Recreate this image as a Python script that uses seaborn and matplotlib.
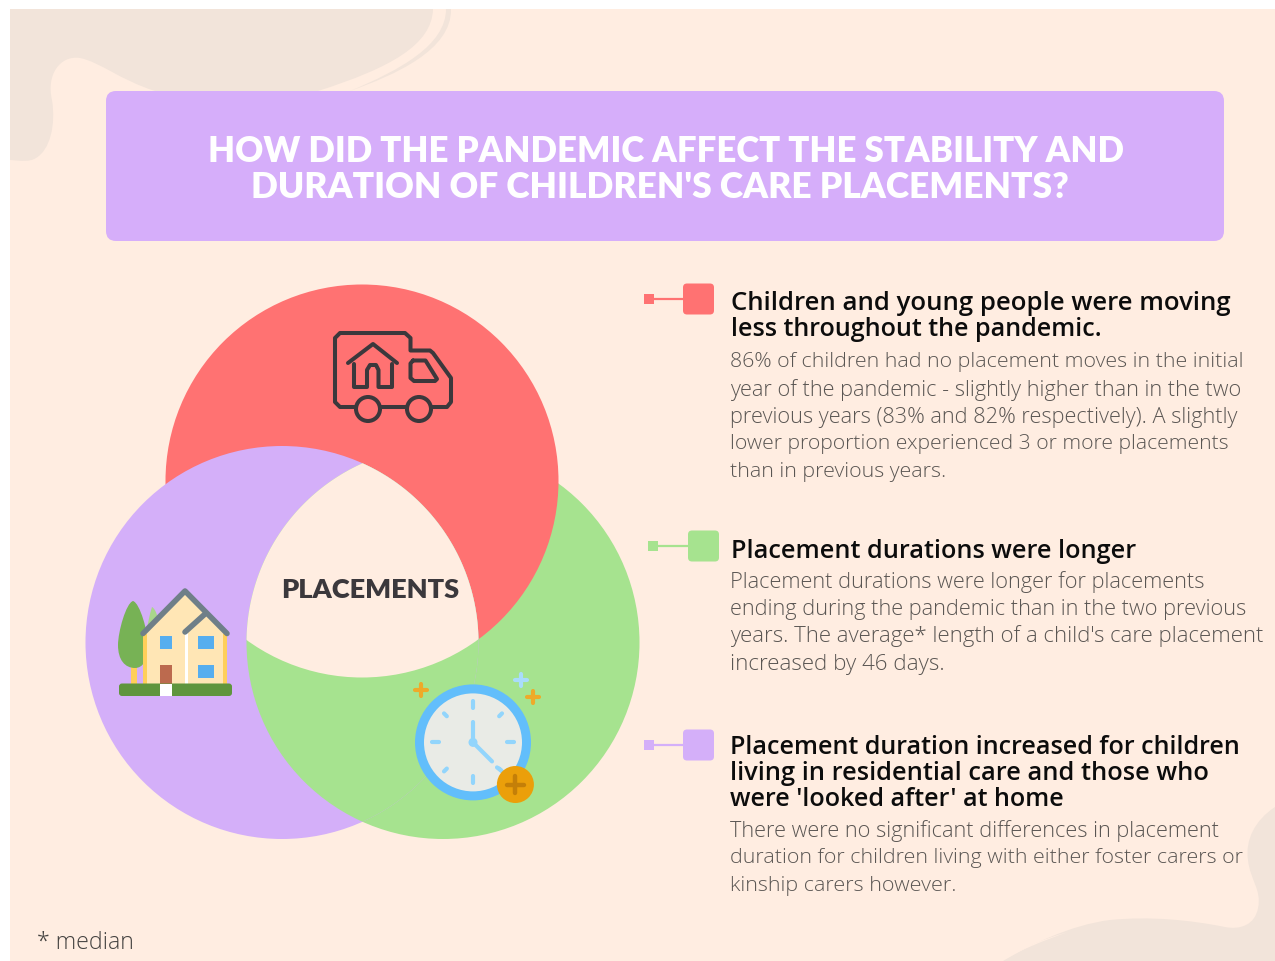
import numpy as np
import pandas as pd
import matplotlib
matplotlib.use("Agg")
import matplotlib.pyplot as plt
import seaborn as sns
from matplotlib.patches import Circle, FancyBboxPatch, PathPatch, Polygon, Rectangle
from matplotlib.path import Path

# colours
WHITE = "#ffffff"
BG = "#ffede1"
BLOB = "#f2e4da"
RED = "#ff7272"
GREEN = "#a6e38f"
PURPLE = "#d4aff9"
BANNER = "#d6aefa"
DARK = "#3b383c"
BODY = "#5a5653"

# text, kept line by line as in the picture
title_lines = ["HOW DID THE PANDEMIC AFFECT THE STABILITY AND",
               "DURATION OF CHILDREN'S CARE PLACEMENTS?"]
centre_label = "PLACEMENTS"
footnote = "* median"
heading_lines = ["Children and young people were moving",
                 "less throughout the pandemic.",
                 "Placement durations were longer",
                 "Placement duration increased for children",
                 "living in residential care and those who",
                 "were 'looked after' at home"]
body_lines = ["86% of children had no placement moves in the initial",
              "year of the pandemic - slightly higher than in the two",
              "previous years (83% and 82% respectively). A slightly",
              "lower proportion experienced 3 or more placements",
              "than in previous years.",
              "Placement durations were longer for placements",
              "ending during the pandemic than in the two previous",
              "years. The average* length of a child's care placement",
              "increased by 46 days.",
              "There were no significant differences in placement",
              "duration for children living with either foster carers or",
              "kinship carers however."]

# where the lines sit (left edge, right edge, vertical middle) in pixels
heading_x = [731, 731, 731, 730, 730, 730]
heading_right = [1233, 1102, 1137, 1242, 1207, 1064]
heading_y = [301, 327, 548, 745, 771, 797]
body_x = [730] * 12
body_right = [1243, 1241, 1236, 1229, 945, 1206, 1248, 1264, 945, 1221, 1241, 956]
body_y = [360, 388, 415, 442, 470, 580, 607, 634, 662, 829, 856, 883]

# the three rings
red_c, green_c, purple_c = (362, 481), (443, 642.5), (282, 642.5)
ring_r = 196.5

# key markers next to the headings
key_colours = [RED, GREEN, PURPLE]
key_big_x = [683, 688, 683]
key_small_x = [649, 653, 649]
key_y = [299, 546, 745]
key_size = 31

sns.set_theme(style="white")
plt.rcParams["font.family"] = ["Open Sans", "DejaVu Sans"]

fig = plt.figure(figsize=(12.75, 9.61), dpi=100, facecolor=WHITE)
ax = fig.add_axes([0, 0, 1, 1])
ax.set_xlim(0, 1275)
ax.set_ylim(961, 0)
ax.axis("off")

ax.add_patch(Rectangle((10, 9), 1265, 952, fc=BG, ec="none", zorder=0))


def blob(points, color=BLOB, z=1):
    # points: start followed by (c1, c2, end) cubic runs
    codes = [Path.MOVETO] + [Path.CURVE4] * (len(points) - 1)
    ax.add_patch(PathPatch(Path(points, codes), fc=color, ec="none", zorder=z))


# top left corner shape
blob([(10, 9), (10, 60), (10, 110), (10, 160),
      (22, 161), (30, 162), (36, 158),
      (50, 150), (56, 125), (52, 100),
      (46, 75), (60, 55), (80, 58),
      (100, 62), (120, 80), (155, 91),
      (210, 110), (270, 105), (318, 91),
      (390, 68), (432, 45), (433, 9),
      (300, 9), (150, 9), (10, 9)])
blob([(446, 9), (446, 45), (400, 70), (350, 91),
      (395, 75), (452, 50), (451, 9),
      (450, 9), (448, 9), (446, 9)])
# bottom right corner shape
blob([(1275, 807), (1255, 820), (1245, 840), (1248, 860),
      (1250, 880), (1262, 890), (1258, 908),
      (1255, 925), (1240, 930), (1225, 927),
      (1190, 920), (1150, 916), (1110, 920),
      (1070, 925), (1030, 945), (1003, 961),
      (1100, 961), (1200, 961), (1275, 961),
      (1275, 910), (1275, 860), (1275, 807)])
blob([(1068, 932), (1040, 940), (1010, 952), (995, 961),
      (997, 961), (999, 961), (1001, 961),
      (1020, 950), (1045, 940), (1068, 932)], BG)

# banner
ax.add_patch(FancyBboxPatch((116, 101), 1098, 130, boxstyle="round,pad=10,rounding_size=10",
                            fc=BANNER, ec="none", zorder=2))


def ring(centre, color, z):
    return Circle(centre, ring_r, fc=color, ec="none", zorder=z)


def lens(a, b):
    # outline of the overlap of two rings, walked round each arc
    th = np.linspace(0, 2 * np.pi, 1441)
    pa = np.c_[a[0] + ring_r * np.cos(th), a[1] + ring_r * np.sin(th)]
    pb = np.c_[b[0] + ring_r * np.cos(th), b[1] + ring_r * np.sin(th)]
    pts = np.r_[pa[np.hypot(*(pa - b).T) <= ring_r], pb[np.hypot(*(pb - a).T) <= ring_r]]
    mid = pts.mean(axis=0)
    return pts[np.argsort(np.arctan2(*(pts - mid).T[::-1]))]


# cyclic overlap: red over green, purple over red, green over purple
ax.add_patch(ring(green_c, GREEN, 3))
ax.add_patch(ring(red_c, RED, 4))
purple_patch = ring(purple_c, PURPLE, 5)
ax.add_patch(purple_patch)
green_top = ring(green_c, GREEN, 6)
ax.add_patch(green_top)
green_top.set_clip_path(purple_patch)
# the middle where all three meet is left in the page colour
gp_lens = Polygon(lens(green_c, purple_c), closed=True, fc="none", ec="none")
ax.add_patch(gp_lens)
middle = ring(red_c, BG, 7)
ax.add_patch(middle)
middle.set_clip_path(gp_lens)


def stroke(xs, ys, lw=2.9, color=DARK, z=8):
    ax.plot(xs, ys, color=color, lw=lw, solid_capstyle="round",
            solid_joinstyle="round", zorder=z)


# removal van
stroke([356, 340, 335, 335, 340, 405, 410.5, 410.5, 430, 433, 451, 451, 447, 431],
       [407, 407, 402, 338, 333, 333, 338, 350.5, 350.5, 353, 378, 402, 407, 407])
stroke([381, 406], [407, 407])
for wx in [368, 419]:
    ax.add_patch(Circle((wx, 409), 12, fc="none", ec=DARK, lw=2.9, zorder=8))
stroke([348, 373, 397], [363, 344, 363])
stroke([354, 354, 367, 367, 370, 376, 378.5, 378.5, 392, 392],
       [364, 387, 387, 370, 365, 365, 370, 387, 387, 364])
stroke([413, 425.5, 437, 435, 414, 410.5, 410.5, 413], [360.5, 360.5, 379, 381, 381, 378, 363.5, 360.5])

# house
blob([(152, 607), (156, 609), (160, 620), (160, 640),
      (160, 655), (155, 665), (150, 665),
      (145, 665), (142, 640), (152, 607)], "#a9d68b", 8)
ax.add_patch(Rectangle((131, 664), 6, 21, fc="#ffcf5a", ec="none", zorder=8))
blob([(133, 601), (126, 603), (118, 632), (118, 645),
      (118, 660), (125, 668), (135, 668),
      (143, 668), (148, 660), (148, 645),
      (148, 632), (140, 603), (133, 601)], "#77b255", 9)
ax.add_patch(Polygon([(143, 633), (185, 592), (227, 633), (227, 684), (143, 684)],
                     closed=True, fc="#ffe6b5", ec="none", zorder=10))
ax.add_patch(Rectangle((143, 634), 4, 50, fc="#ffcf5a", ec="none", zorder=10))
ax.add_patch(Rectangle((223, 634), 4, 50, fc="#ffcf5a", ec="none", zorder=10))
ax.add_patch(Rectangle((185, 633), 3, 51, fc=WHITE, ec="none", zorder=10))
stroke([143, 185, 227], [633.5, 591, 633.5], lw=4, color="#6f7f88", z=11)
stroke([185, 205], [632, 614], lw=4, color="#6f7f88", z=11)
for wx, wy, ww in [(159.5, 636, 12.5), (198, 636, 16), (198, 665, 16)]:
    ax.add_patch(Rectangle((wx, wy), ww, 12.5, fc="#56aeef", ec="none", zorder=11))
ax.add_patch(Rectangle((159.5, 665), 12.5, 19, fc="#bc6a4e", ec="none", zorder=11))
ax.add_patch(FancyBboxPatch((122, 686.5), 107, 6.5, boxstyle="round,pad=3",
                            fc="#5f953d", ec="none", zorder=11))
ax.add_patch(Rectangle((159.5, 683.5), 12.5, 12.5, fc=WHITE, ec="none", zorder=12))

# clock
cx, cy = 473, 742.4
ax.add_patch(Circle((cx, cy), 58, fc="#62befb", ec="none", zorder=8))
ax.add_patch(Circle((cx, cy), 49, fc="#e9ebe6", ec="none", zorder=9))
for ang in np.arange(0, 360, 45):
    a = np.radians(ang)
    r0, r1 = (37, 41) if ang % 90 else (34, 41)
    stroke([cx + r0 * np.cos(a), cx + r1 * np.cos(a)], [cy + r0 * np.sin(a), cy + r1 * np.sin(a)],
           lw=3, color="#92d5fc", z=10)
stroke([cx, cx], [cy, cy - 20], lw=3, color="#92d5fc", z=10)
stroke([cx, cx + 19], [cy, cy + 19], lw=3, color="#92d5fc", z=10)
stroke([cx + 24, cx + 28], [cy + 25, cy + 28], lw=3, color="#92d5fc", z=10)
ax.add_patch(Circle((cx, cy), 4.5, fc="#92d5fc", ec="none", zorder=10))
ax.add_patch(Circle((515.4, 784.5), 18.5, fc="#eb9f0a", ec="none", zorder=11))
stroke([507, 524], [784.5, 784.5], lw=3.2, color="#c47f08", z=12)
stroke([515.4, 515.4], [776, 793], lw=3.2, color="#c47f08", z=12)
for sx, sy, col in [(421, 690, "#eeaa2a"), (521, 680, "#a9dcfb"), (533, 697, "#eeaa2a")]:
    stroke([sx - 6, sx + 6], [sy, sy], lw=3, color=col, z=8)
    stroke([sx, sx], [sy - 6, sy + 6], lw=3, color=col, z=8)

# key markers
for col, bx, sx, ky in zip(key_colours, key_big_x, key_small_x, key_y):
    seg = pd.DataFrame({"x": [sx, bx], "y": [ky, ky]})
    sns.lineplot(data=seg, x="x", y="y", color=col, lw=1.6, ax=ax, legend=False, zorder=5)
    sns.scatterplot(data=seg.iloc[[0]], x="x", y="y", color=col, marker="s", s=60,
                    linewidth=0, ax=ax, legend=False, zorder=6)
    ax.add_patch(FancyBboxPatch((bx + 4, ky - key_size / 2 + 4), key_size - 8, key_size - 8,
                                boxstyle="round,pad=4", fc=col, ec="none", zorder=6))
ax.set_xlim(0, 1275)
ax.set_ylim(961, 0)

renderer = fig.canvas.get_renderer()


def fitted(s, left, right, y, color, weight, family, start=14.0, z=20):
    # one line of text, sized so that it spans left..right
    t = ax.text(left, y, s, color=color, fontsize=start, fontweight=weight, family=family,
                ha="left", va="center_baseline", zorder=z)
    for _ in range(3):
        w = t.get_window_extent(renderer).width
        t.set_fontsize(t.get_fontsize() * (right - left) / w)
    return t


for s, left, right, y in zip(title_lines, [208, 251], [1123, 1070], [148, 184]):
    fitted(s, left, right, y, WHITE, "heavy", ["Lato", "DejaVu Sans"])
for s, left, right, y in zip(heading_lines, heading_x, heading_right, heading_y):
    fitted(s, left, right, y, "#0c0c0c", "semibold", ["Open Sans", "DejaVu Sans"])
for s, left, right, y in zip(body_lines, body_x, body_right, body_y):
    fitted(s, left, right, y, BODY, "light", ["Open Sans", "DejaVu Sans"])
fitted(centre_label, 281, 459, 588, DARK, "heavy", ["Lato", "DejaVu Sans"])
fitted(footnote, 37, 134, 940, "#444240", "light", ["Open Sans", "DejaVu Sans"])

fig.savefig("out.png", dpi=100, facecolor=WHITE)
